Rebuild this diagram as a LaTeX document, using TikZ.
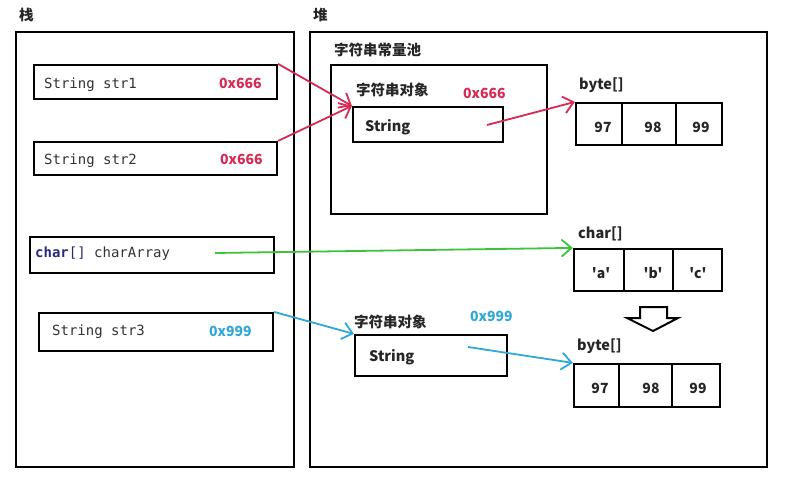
\documentclass[tikz,border=0pt]{standalone}
\usepackage{fontspec}
\setmonofont{DejaVu Sans Mono}
\newfontfamily\cjk{Noto Sans CJK SC}
\usetikzlibrary{arrows.meta}
\definecolor{myred}{HTML}{D62A55}
\definecolor{mycyan}{HTML}{2FA8D8}
\definecolor{mygreen}{HTML}{3DC23D}
\definecolor{mynavy}{HTML}{2A2A80}
\definecolor{mytext}{HTML}{333333}
\tikzset{
  box/.style={draw=black, line width=2.2pt, minimum width=#1, inner sep=0pt},
  cell/.style={draw=black, line width=2.2pt, inner sep=0pt, minimum height=42pt},
  mono/.style={font=\ttfamily\fontsize{14}{16}\selectfont, text=mytext, anchor=west, inner sep=0pt},
  heap/.style={font=\cjk\bfseries\fontsize{14.5}{16}\selectfont, text=black!85, anchor=west, inner sep=0pt},
  addr/.style={font=\cjk\bfseries\fontsize{14}{16}\selectfont, anchor=west, inner sep=0pt},
  val/.style={font=\cjk\bfseries\fontsize{14}{16}\selectfont, text=black!85, inner sep=0pt},
  ptr/.style={line width=1.8pt, -{Straight Barb[length=10pt,width=17pt,line width=1.8pt]}},
}
\begin{document}
\begin{tikzpicture}[x=1pt,y=-1pt]
\useasboundingbox (0,0) rectangle (789,489);
\fill[white] (0,0) rectangle (789,489);
% region labels
\node[heap] (lstack) at (19,15) {栈};
\node[heap] (lheap) at (313,15) {堆};
% big boxes
\node[box=278pt, minimum height=435pt] (stack) at (155,249.5) {};
\node[box=457pt, minimum height=435pt] (heapbox) at (538.5,249.5) {};
% stack entries
\node[box=243pt, minimum height=34pt] (s1) at (155.5,82) {};
\node[mono] (s1t) at (44,85) {String str1};
\node[addr, text=myred] (s1a) at (219,83) {0x666};
\node[box=243pt, minimum height=33pt] (s2) at (155.5,158.5) {};
\node[mono] (s2t) at (44,161) {String str2};
\node[addr, text=myred] (s2a) at (220,159) {0x666};
\node[box=244pt, minimum height=36pt] (ca) at (152,255) {};
\node[mono] (cat) at (35,254) {\textcolor{mynavy}{\bfseries char}\textcolor{mynavy!70!mytext}{[]} charArray};
\node[box=234pt, minimum height=38pt] (s3) at (156,332) {};
\node[mono] (s3t) at (52,332) {String str3};
\node[addr, text=mycyan] (s3a) at (209,331) {0x999};
% constant pool
\node[heap] (lpool) at (334,50) {字符串常量池};
\node[box=216pt, minimum height=149pt] (pool) at (439,139.5) {};
\node[heap] (lobj1) at (356,90) {字符串对象};
\node[addr, text=myred] (o1a) at (463,93) {0x666};
\node[box=150pt, minimum height=35pt] (o1) at (428,124.5) {};
\node[heap] (o1t) at (365,127) {String};
% byte array 1
\node[heap] (lb1) at (579,85) {byte[]};
\node[cell, minimum width=46pt] (b1a) at (599,124) {};
\node[cell, minimum width=54pt] (b1b) at (649,124) {};
\node[cell, minimum width=46pt] (b1c) at (699,124) {};
\node[val] (b1at) at (603,127) {97};
\node[val] (b1bt) at (653,127) {98};
\node[val] (b1ct) at (701,127) {99};
% char array
\node[heap] (lc) at (578,234) {char[]};
\node[cell, minimum width=50pt] (caa) at (599,270) {};
\node[cell, minimum width=49pt] (cab) at (648.5,270) {};
\node[cell, minimum width=49pt] (cac) at (697.5,270) {};
\node[val] (caat) at (601,273) {'a'};
\node[val] (cabt) at (653,273) {'b'};
\node[val] (cact) at (698,273) {'c'};
% hollow conversion arrow
\draw[line width=2pt, line join=miter] (640,307) -- (667,307) -- (667,318) -- (678,318) -- (653,331) -- (627,318) -- (640,318) -- cycle;
% second string object
\node[heap] (lobj2) at (354,322) {字符串对象};
\node[addr, text=mycyan] (o2a) at (470,316) {0x999};
\node[box=152pt, minimum height=41pt] (o2) at (431,355.5) {};
\node[heap] (o2t) at (369,357) {String};
% byte array 2
\node[heap] (lb2) at (577,346) {byte[]};
\node[cell, minimum width=45pt, minimum height=43pt] (b2a) at (596.5,385.5) {};
\node[cell, minimum width=53pt, minimum height=43pt] (b2b) at (645.5,385.5) {};
\node[cell, minimum width=48pt, minimum height=43pt] (b2c) at (696,385.5) {};
\node[val] (b2at) at (600,388) {97};
\node[val] (b2bt) at (651,388) {98};
\node[val] (b2ct) at (698,388) {99};
% pointers
\coordinate (o1p) at (487,125);
\coordinate (cap) at (215,253);
\coordinate (o2p) at (468,347);
\draw[ptr, myred] (s1.north east) -- (o1.north west);
\draw[ptr, myred] (s2.north east) -- (o1.north west);
\draw[ptr, myred] (o1p) -- (b1a.north west);
\draw[ptr, mygreen] (cap) -- (caa.north west);
\draw[ptr, mycyan] (s3.north east) -- (o2.north west);
\draw[ptr, mycyan] (o2p) -- (b2a.north west);
\end{tikzpicture}
\end{document}
